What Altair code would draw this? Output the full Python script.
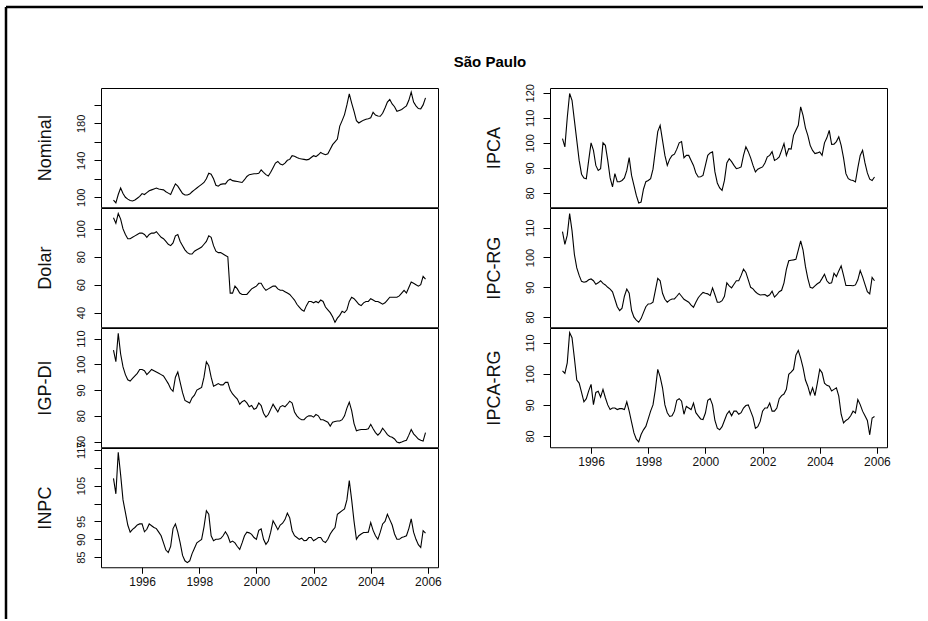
import altair as alt
import pandas as pd

START = 1995
x_ticks = [1996, 1998, 2000, 2002, 2004, 2006]
x_domain = [1994.563, 2006.354]

# monthly series Jan 1995 - Dec 2005
nominal = [97, 94, 103, 110, 104, 100, 98, 96.5, 96, 97, 99, 101,
           104, 103, 105, 107, 108, 109, 110, 109, 108.5, 108, 106, 104.5,
           103, 109, 114.5, 112, 108, 104, 102.5, 102.5, 103.5, 106, 108, 110,
           112, 114, 116, 120, 126, 125, 120, 113, 112, 114, 114.5, 114.5,
           118, 119.6, 118, 117.5, 117, 116.5, 116, 119, 122.5, 124.5, 125, 125.4,
           125.4, 126, 129.7, 127, 124.5, 123, 127, 132, 137, 138.8, 136, 135,
           137, 140, 141, 145, 144.5, 143, 142, 141.5, 141, 140.5, 141, 143,
           145, 144, 146, 148.5, 147, 146, 147, 152, 157, 160, 163, 177,
           183, 189.5, 200, 212, 202, 193, 183, 180.4, 182, 183.5, 184.5, 185,
           186, 192, 189, 188, 187.7, 191, 196.7, 203, 205.8, 201, 198, 193,
           194, 195, 197, 199, 205, 213.8, 203, 199, 196, 195.7, 200, 207.6]
dolar = [108, 104, 111, 107, 100, 96, 93, 93, 94, 95, 96, 97,
         97, 96, 94, 96, 97, 97, 98, 96, 94, 93, 91, 89,
         88, 90, 95, 96, 91, 88, 85, 83, 82, 82, 84, 85,
         86, 87, 89, 91, 95, 94, 88, 84, 83, 83, 82, 81,
         80, 54, 54, 59, 57, 54, 53, 53, 53, 55, 57, 58,
         59, 61, 61, 58, 56, 57, 58, 59, 59, 57, 56, 56,
         55, 54, 53, 51, 49, 46, 44, 42, 41, 45, 48, 48,
         47, 48, 47, 49, 48, 44, 42, 40, 37, 33, 36, 38,
         41, 40, 42, 48, 51, 50, 48, 46, 45, 47, 48, 48,
         50, 49, 48, 48, 47, 46, 47, 49, 51, 51, 51, 51,
         52, 54, 56, 54, 58, 62, 61, 60, 59, 60, 66, 64]
igp_di = [105.5, 101, 112, 104, 99, 96, 94, 93.5, 94.5, 95.5, 96.5, 98,
          98, 97.5, 96, 97, 98, 97.5, 97, 96.5, 96, 95.5, 94, 92.5,
          90.5, 89.5, 95, 97, 93, 89, 86, 85.5, 85, 87, 88, 90,
          90.5, 91, 95, 101, 99.5, 95, 91.5, 92, 92.5, 92, 92, 93,
          93, 90, 88.5, 87.5, 86.5, 84.5, 85.5, 86, 85, 83.5, 84, 82.5,
          83, 85, 84, 81, 79.5, 80.5, 82.5, 84.5, 83, 81.5, 83.5, 84,
          83.5, 84.5, 85.7, 85, 81.5, 80, 79, 78.5, 78.5, 79.5, 80, 80,
          79.5, 80.5, 80, 78.5, 78.5, 78, 77.5, 76, 77.5, 77.8, 78, 78,
          78.5, 80, 83, 85.3, 82, 77, 74.2, 74.5, 74.7, 74.7, 74.7, 75,
          76.7, 75, 73.5, 72.5, 73.5, 75.2, 74, 72.7, 72, 71.7, 71, 69.8,
          69.5, 69.8, 70.2, 70.5, 72.5, 74.7, 73, 72, 71, 70.5, 70.2, 73.5]
inpc = [107, 102.7, 114.3, 108, 101, 97.5, 94, 92, 92.8, 93.3, 94, 94.3,
        94.3, 92.1, 92.8, 94.3, 93.8, 93.3, 93, 92, 91, 89, 87, 86.3,
        88, 93, 94.3, 92, 89, 85.5, 84, 83.5, 84, 86, 87.5, 89,
        89.5, 90, 93.5, 98, 97, 91, 89.6, 90, 90, 90.2, 91, 92.1,
        91, 89.1, 89.5, 89, 88, 87.2, 89, 91, 92, 91.8, 91.4, 90.5,
        90, 92.5, 92.9, 90, 88.6, 89.5, 92, 95.2, 94, 92.7, 94, 94.5,
        95.5, 97.3, 96, 92.4, 91, 90.5, 90, 90.3, 89.6, 89.7, 90.5, 90.5,
        89.6, 90, 90.5, 90.5, 89.5, 89.1, 90, 91.5, 92.5, 93.3, 97, 97.5,
        98, 98.5, 101, 106.4, 101, 95, 90, 91, 91.5, 91.9, 91.9, 92,
        94.7, 92.5, 91, 90, 92, 94.3, 95, 97, 95.5, 94, 91.5, 90,
        90, 90.5, 90.7, 91, 93, 95.7, 92, 90, 88.5, 87.7, 92.4, 91.7]
ipca = [101.7, 98.4, 110, 119.7, 117, 109, 101, 93, 87.5, 86, 85.7, 93,
        100, 97, 91, 89, 89.7, 100, 99, 93, 86, 82.4, 87.7, 84.5,
        84.5, 85, 86, 89, 94.1, 87, 83, 79, 76, 76.4, 81.5, 84.5,
        85, 85.7, 89.5, 97, 104.5, 107, 101, 95, 91, 93.5, 95, 95.5,
        97.5, 100, 100.5, 94, 95, 95, 93, 91, 88, 86.4, 86.5, 87,
        91, 95, 96, 96.4, 88.4, 84, 82, 81, 85, 92, 93.7, 92.5,
        91, 89.7, 90, 90.4, 95, 98.4, 96.5, 94, 91, 88.4, 89.5, 90,
        90.4, 92, 94.4, 95, 96.5, 93, 93.5, 94.4, 97, 99.7, 95, 97.7,
        97.5, 103, 105, 107, 114.4, 111, 106, 103, 99, 97, 95.7, 96,
        96.4, 95, 100, 102, 105, 99.4, 99.5, 100.5, 102.4, 99, 94, 87.7,
        85.7, 85.2, 85, 84.4, 90, 95, 97, 92, 88, 85.5, 85, 86.4]
ipc_rg = [108.7, 104.4, 107.5, 114.7, 109, 101, 96.5, 94, 92, 91.7, 91.9, 92.5,
          92.8, 92.2, 91, 91.5, 92.2, 91.3, 90.8, 90, 89.4, 88.5, 86, 83.5,
          82.2, 83, 87, 89.4, 88, 82.2, 80, 79, 78.3, 79.5, 81.5, 83.5,
          84.4, 84.5, 85, 89, 93, 92.2, 88, 86, 85, 85.7, 86.1, 86.1,
          87, 88, 87, 86, 85.5, 85, 84, 83.3, 85, 86.5, 87.5, 88.3,
          88, 87.8, 87.2, 89.8, 87.5, 85, 85, 85.5, 87, 91.5, 90.5, 89.8,
          91, 92.2, 92.2, 94, 96.1, 95, 92.5, 90, 89.5, 88.5, 87.8, 87.4,
          87.5, 87.6, 87, 87.5, 88.7, 86.7, 87.5, 88.5, 89, 91.5, 96, 98.9,
          99.1, 99.2, 99.4, 102.5, 105.6, 102.5, 97, 93, 90, 89.7, 90.5, 91.2,
          91.7, 93, 94.4, 92.2, 91.3, 91.5, 94.7, 93.6, 95.5, 97.2, 94, 90.6,
          90.6, 90.6, 90.5, 90.8, 92.5, 95.6, 93.5, 91, 88.5, 87.8, 93.3, 92.2]
ipca_rg = [100.9, 100.1, 103.5, 113.2, 111.6, 105, 98, 97, 94, 91, 92, 94.5,
           96.6, 90.1, 94, 94.4, 92.5, 95, 92.3, 90, 88.5, 89, 89, 88.5,
           88.8, 88.8, 88.5, 91, 88, 84.5, 81, 79, 78.1, 80.5, 82, 83.1,
           85.5, 88, 90, 95, 101.4, 99, 95.5, 90, 87.5, 86.3, 86.5, 88,
           91.5, 92, 91.2, 87, 89.5, 89, 88.5, 90.6, 87.5, 86.5, 85.5, 85.3,
           87.4, 91.5, 92, 90, 85, 82.5, 82, 83, 85, 87, 88, 86.5,
           88, 88, 87, 87.5, 89, 89.8, 90, 88, 86, 82.5, 83, 84.7,
           88, 89, 89, 90.6, 88, 88, 89, 92, 93, 93.5, 95, 99.8,
           100.5, 101.4, 106, 107.5, 105, 102, 98, 96, 93.3, 95.5, 93, 97,
           101.4, 100.3, 97, 96.3, 96, 94.5, 95, 95.5, 92.8, 87, 84.2, 85,
           85.5, 86.5, 88, 87.4, 91.7, 90.1, 88, 86.5, 85, 80.4, 85.8, 86.3]

panels_left = [
    ("Nominal", nominal, [89.2, 218.3], [100, 120, 140, 160, 180, 200], [100, 140, 180]),
    ("Dolar", dolar, [29.5, 115.0], [40, 60, 80, 100], [40, 60, 80, 100]),
    ("IGP-DI", igp_di, [67.8, 114.1], [70, 80, 90, 100, 110], [70, 80, 90, 100, 110]),
    ("INPC", inpc, [82.2, 115.5], [85, 90, 95, 100, 105, 110, 115], [85, 90, 95, 105, 115]),
]
panels_right = [
    ("IPCA", ipca, [74.3, 121.9], [80, 90, 100, 110, 120], [80, 90, 100, 110, 120]),
    ("IPC-RG", ipc_rg, [76.6, 116.6], [80, 90, 100, 110], [80, 90, 100, 110]),
    ("IPCA-RG", ipca_rg, [76.4, 114.7], [80, 90, 100, 110], [80, 90, 100, 110]),
]

W = 337
H = 119.25
FONT = "Liberation Sans"
NARROW = "'Liberation Sans Narrow', 'Liberation Sans', Arial, sans-serif"


def panel(name, values, domain, ticks, labels, bottom):
    df = pd.DataFrame({"t": [START + i / 12 for i in range(len(values))], "v": values})
    if bottom:
        xaxis = alt.Axis(values=x_ticks, format="d", title=None, grid=False, domain=False,
                         tickSize=6, tickColor="black", labelPadding=3, labelFont=FONT,
                         labelFontSize=12, labelColor="#111111", labelFlush=False, labelAngle=0,
                         labelOverlap=False)
    else:
        xaxis = None
    yaxis = alt.Axis(values=ticks,
                     labelExpr=f"indexof({labels}, datum.value) >= 0 ? datum.label : ''",
                     grid=False, domain=False, tickSize=7, tickColor="black",
                     labelAngle=270, labelAlign="center", labelBaseline="middle",
                     labelPadding=13, labelFont=NARROW, labelFontSize=11, labelColor="#111111",
                     labelOverlap=False, labelFlush=False,
                     title=name, titleX=-56, titleY=H / 2, titleAngle=270, titleAlign="center",
                     titleBaseline="middle", titleFont=NARROW, titleFontSize=18,
                     titleFontWeight="normal", titleColor="#111111")
    return alt.Chart(df).mark_line(color="black", strokeWidth=1.1).encode(
        x=alt.X("t:Q", scale=alt.Scale(domain=x_domain, nice=False, zero=False), axis=xaxis),
        y=alt.Y("v:Q", scale=alt.Scale(domain=domain, nice=False, zero=False), axis=yaxis),
    ).properties(width=W, height=H)


left = [panel(*p, bottom=(i == len(panels_left) - 1)) for i, p in enumerate(panels_left)]
right = [panel(*p, bottom=(i == len(panels_right) - 1)) for i, p in enumerate(panels_right)]

deco = pd.DataFrame({"label": ["São Paulo"]})
title = alt.Chart(deco).mark_text(font=FONT, fontSize=15, fontWeight="bold", align="center",
                                   baseline="middle", color="black").encode(
    text="label:N", x=alt.value(389), y=alt.value(-26))
frame_v = alt.Chart(deco).mark_rule(color="black", strokeWidth=2.5).encode(
    x=alt.value(-95), y=alt.value(-81), y2=alt.value(531))
frame_h = alt.Chart(deco).mark_rule(color="black", strokeWidth=2.5).encode(
    x=alt.value(-95), x2=alt.value(822), y=alt.value(-81))

left[0] = alt.layer(left[0], frame_v, frame_h, title).properties(width=W, height=H)

cells = [left[0], right[0], left[1], right[1], left[2], right[2], left[3]]

chart = alt.concat(*cells, columns=2, spacing={"row": 0, "column": 112}, bounds="flush").properties(
    padding={"left": 4, "top": 5, "right": 0, "bottom": 0},
    background="white",
).configure_view(stroke="black", strokeWidth=1)

chart.save("out.html", embed_options={"renderer": "svg", "actions": False})
